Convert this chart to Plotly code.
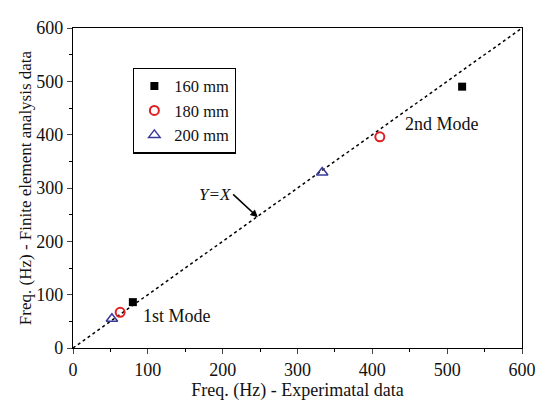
import plotly.graph_objects as go

exp_160 = [80, 520]
fea_160 = [86, 490]
exp_180 = [63, 410]
fea_180 = [67, 396]
exp_200 = [52, 333]
fea_200 = [55, 329]
ref_line = [0, 600]

font = "Liberation Serif, Times New Roman, serif"
txt = "#111"

fig = go.Figure()
fig.add_trace(go.Scatter(x=ref_line, y=ref_line, mode="lines",
                         line=dict(color="black", width=1.5, dash="dot"),
                         showlegend=False, hoverinfo="skip"))
fig.add_trace(go.Scatter(x=exp_160, y=fea_160, mode="markers", name="160 mm",
                         marker=dict(symbol="square", size=8, color="black")))
fig.add_trace(go.Scatter(x=exp_180, y=fea_180, mode="markers", name="180 mm",
                         marker=dict(symbol="circle-open", size=9, color="#e02020",
                                     line=dict(width=2))))
fig.add_trace(go.Scatter(x=exp_200, y=fea_200, mode="markers", name="200 mm",
                         marker=dict(symbol="triangle-up-open", size=10, color="#3a3a9a",
                                     line=dict(width=1.5))))

axis_common = dict(range=[0, 600], dtick=100, ticks="outside", ticklen=5,
                   tickwidth=1, linecolor="black", linewidth=1.2, mirror=True,
                   showgrid=False, zeroline=False,
                   minor=dict(dtick=50, ticks="outside", ticklen=3, tickcolor="black"),
                   tickfont=dict(family=font, size=18, color=txt))

fig.update_xaxes(**axis_common,
                 title=dict(text="Freq. (Hz) - Experimatal data",
                            font=dict(family=font, size=18, color=txt), standoff=0))
fig.update_yaxes(**axis_common,
                 title=dict(text="Freq. (Hz) - Finite element analysis data",
                            font=dict(family=font, size=17, color=txt), standoff=0))

fig.add_annotation(x=139, y=60, text="1st Mode", showarrow=False,
                   font=dict(family=font, size=18, color=txt))
fig.add_annotation(x=493, y=420, text="2nd Mode", showarrow=False,
                   font=dict(family=font, size=18, color=txt))
fig.add_annotation(x=247, y=245, ax=214, ay=288, axref="x", ayref="y",
                   text="<i>Y=X</i>", showarrow=True, arrowhead=2, arrowsize=1,
                   arrowwidth=1.5, arrowcolor="black", xanchor="right",
                   font=dict(family=font, size=17, color=txt))

fig.update_layout(
    width=539, height=398,
    margin=dict(l=65, r=25, t=10, b=58),
    paper_bgcolor="white", plot_bgcolor="white",
    font=dict(family=font, color=txt),
    legend=dict(x=0.134, y=0.742, xanchor="left", yanchor="middle",
                bordercolor="black", borderwidth=1.2, bgcolor="white",
                font=dict(family=font, size=16.5), itemwidth=30,
                tracegroupgap=0),
)

fig.write_html("out.html")
